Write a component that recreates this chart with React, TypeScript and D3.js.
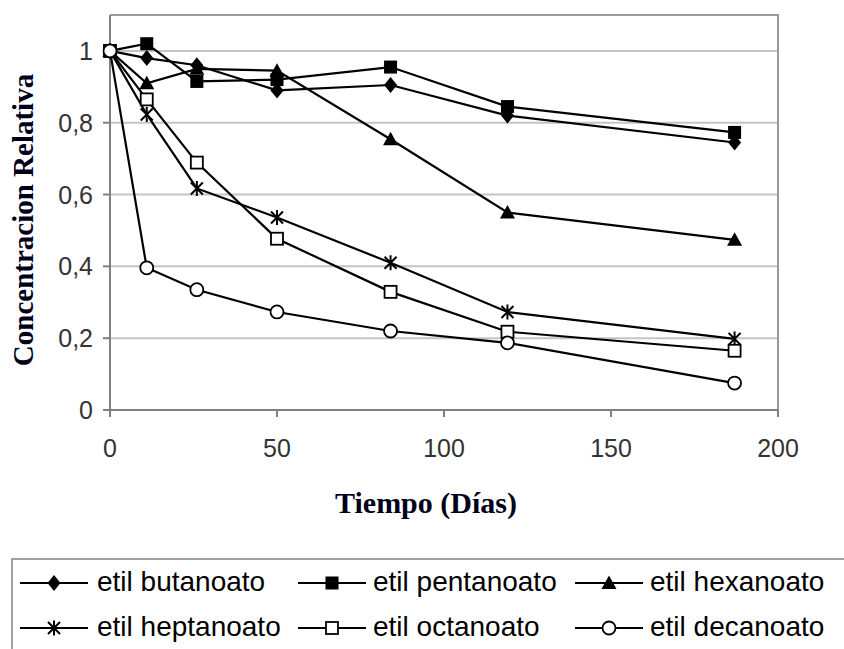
import * as d3 from 'd3';

const days = [0, 11, 26, 50, 84, 119, 187];
const butanoato = [1, 0.98, 0.96, 0.89, 0.905, 0.82, 0.745];
const pentanoato = [1, 1.02, 0.915, 0.92, 0.955, 0.845, 0.773];
const hexanoato = [1, 0.91, 0.95, 0.945, 0.754, 0.55, 0.474];
const heptanoato = [1, 0.823, 0.617, 0.536, 0.41, 0.273, 0.198];
const octanoato = [1, 0.865, 0.689, 0.477, 0.329, 0.218, 0.165];
const decanoato = [1, 0.396, 0.335, 0.273, 0.22, 0.187, 0.075];

const seriesNames = ['etil butanoato', 'etil pentanoato', 'etil hexanoato', 'etil heptanoato', 'etil octanoato', 'etil decanoato'];
const seriesValues = [butanoato, pentanoato, hexanoato, heptanoato, octanoato, decanoato];
const markerKinds = ['diamond', 'square', 'triangle', 'star', 'openSquare', 'circle'];

const yTicks = [0, 0.2, 0.4, 0.6, 0.8, 1];
const yTickLabels = ['0', '0,2', '0,4', '0,6', '0,8', '1'];
const xTicks = [0, 50, 100, 150, 200];

const W = 844;
const H = 649;
const left = 110;
const right = 778;
const top = 15;
const bottom = 410;

function Marker({ kind, cx, cy }: { kind: string; cx: number; cy: number }) {
  if (kind === 'diamond') {
    return <path d={`M${cx},${cy - 8}L${cx + 6.5},${cy}L${cx},${cy + 8}L${cx - 6.5},${cy}Z`} fill="#000" />;
  }
  if (kind === 'square') {
    return <rect x={cx - 6.5} y={cy - 6.5} width={13} height={13} fill="#000" />;
  }
  if (kind === 'triangle') {
    return <path d={`M${cx},${cy - 7.5}L${cx + 7.5},${cy + 6}L${cx - 7.5},${cy + 6}Z`} fill="#000" />;
  }
  if (kind === 'star') {
    const r = 7.5;
    const d = r * 0.8;
    return (
      <path
        d={`M${cx},${cy - r}V${cy + r}M${cx - d},${cy - d}L${cx + d},${cy + d}M${cx + d},${cy - d}L${cx - d},${cy + d}`}
        stroke="#000"
        strokeWidth={2}
        fill="none"
      />
    );
  }
  if (kind === 'openSquare') {
    return <rect x={cx - 6} y={cy - 6} width={12} height={12} fill="#fff" stroke="#000" strokeWidth={1.8} />;
  }
  return <circle cx={cx} cy={cy} r={6.5} fill="#fff" stroke="#000" strokeWidth={1.8} />;
}

export default function App() {
  const x = d3.scaleLinear().domain([0, 200]).range([left, right]);
  const y = d3.scaleLinear().domain([0, 1.1]).range([bottom, top]);
  const line = d3
    .line<number>()
    .x((_, i) => x(days[i]))
    .y((d) => y(d));

  const legendCols = [
    { lx1: 20, lx2: 88, tx: 97 },
    { lx1: 298, lx2: 366, tx: 373 },
    { lx1: 575, lx2: 643, tx: 650 },
  ];
  const legendRows = [583, 628];

  return (
    <svg width={W} height={H} style={{ position: 'absolute', left: 0, top: 0, background: '#fff' }}>
      <rect x={0} y={0} width={W} height={H} fill="#fff" />
      {/* grid */}
      {yTicks.slice(1).map((t) => (
        <line key={t} x1={left} x2={right} y1={y(t)} y2={y(t)} stroke="#c4c4c4" strokeWidth={2} />
      ))}
      {/* plot border top/right */}
      <path d={`M${left},${top}H${right}V${bottom}`} fill="none" stroke="#9a9a9a" strokeWidth={2} />
      {/* axes */}
      <line x1={left} x2={left} y1={top} y2={bottom} stroke="#808080" strokeWidth={2} />
      <line x1={left} x2={right} y1={bottom} y2={bottom} stroke="#808080" strokeWidth={2} />
      {yTicks.map((t, i) => (
        <g key={`yt${t}`}>
          <line x1={left - 7} x2={left} y1={y(t)} y2={y(t)} stroke="#808080" strokeWidth={2} />
          <text
            x={93}
            y={y(t) + 9}
            textAnchor="end"
            fontFamily="Liberation Sans, Arial, sans-serif"
            fontSize={25}
            fill="#333"
          >
            {yTickLabels[i]}
          </text>
        </g>
      ))}
      {xTicks.map((t) => (
        <g key={`xt${t}`}>
          <line x1={x(t)} x2={x(t)} y1={bottom} y2={bottom + 7} stroke="#808080" strokeWidth={2} />
          <text
            x={x(t)}
            y={457}
            textAnchor="middle"
            fontFamily="Liberation Sans, Arial, sans-serif"
            fontSize={25}
            fill="#333"
          >
            {t}
          </text>
        </g>
      ))}
      {/* series */}
      {seriesValues.map((vals, s) => (
        <g key={seriesNames[s]}>
          <path d={line(vals) ?? ''} fill="none" stroke="#000" strokeWidth={2.2} />
          {vals.map((v, i) => (
            <Marker key={i} kind={markerKinds[s]} cx={x(days[i])} cy={y(v)} />
          ))}
        </g>
      ))}
      {/* titles */}
      <text
        transform={`translate(33,220) rotate(-90)`}
        textAnchor="middle"
        fontFamily="Liberation Serif, Times New Roman, serif"
        fontWeight="bold"
        fontSize={29}
        fill="#00001a"
      >
        Concentracion Relativa
      </text>
      <text
        x={426}
        y={513}
        textAnchor="middle"
        fontFamily="Liberation Serif, Times New Roman, serif"
        fontWeight="bold"
        fontSize={30}
        fill="#00001a"
      >
        Tiempo (Días)
      </text>
      {/* legend */}
      <rect x={12} y={559} width={900} height={200} fill="#fff" stroke="#a0a0a0" strokeWidth={2} />
      {seriesNames.map((name, s) => {
        const col = legendCols[s % 3];
        const cy = legendRows[Math.floor(s / 3)];
        return (
          <g key={`lg${name}`}>
            <line x1={col.lx1} x2={col.lx2} y1={cy} y2={cy} stroke="#000" strokeWidth={2.2} />
            <Marker kind={markerKinds[s]} cx={(col.lx1 + col.lx2) / 2} cy={cy} />
            <text x={col.tx} y={cy + 8} fontFamily="Liberation Sans, Arial, sans-serif" fontSize={28} fill="#000">
              {name}
            </text>
          </g>
        );
      })}
    </svg>
  );
}
